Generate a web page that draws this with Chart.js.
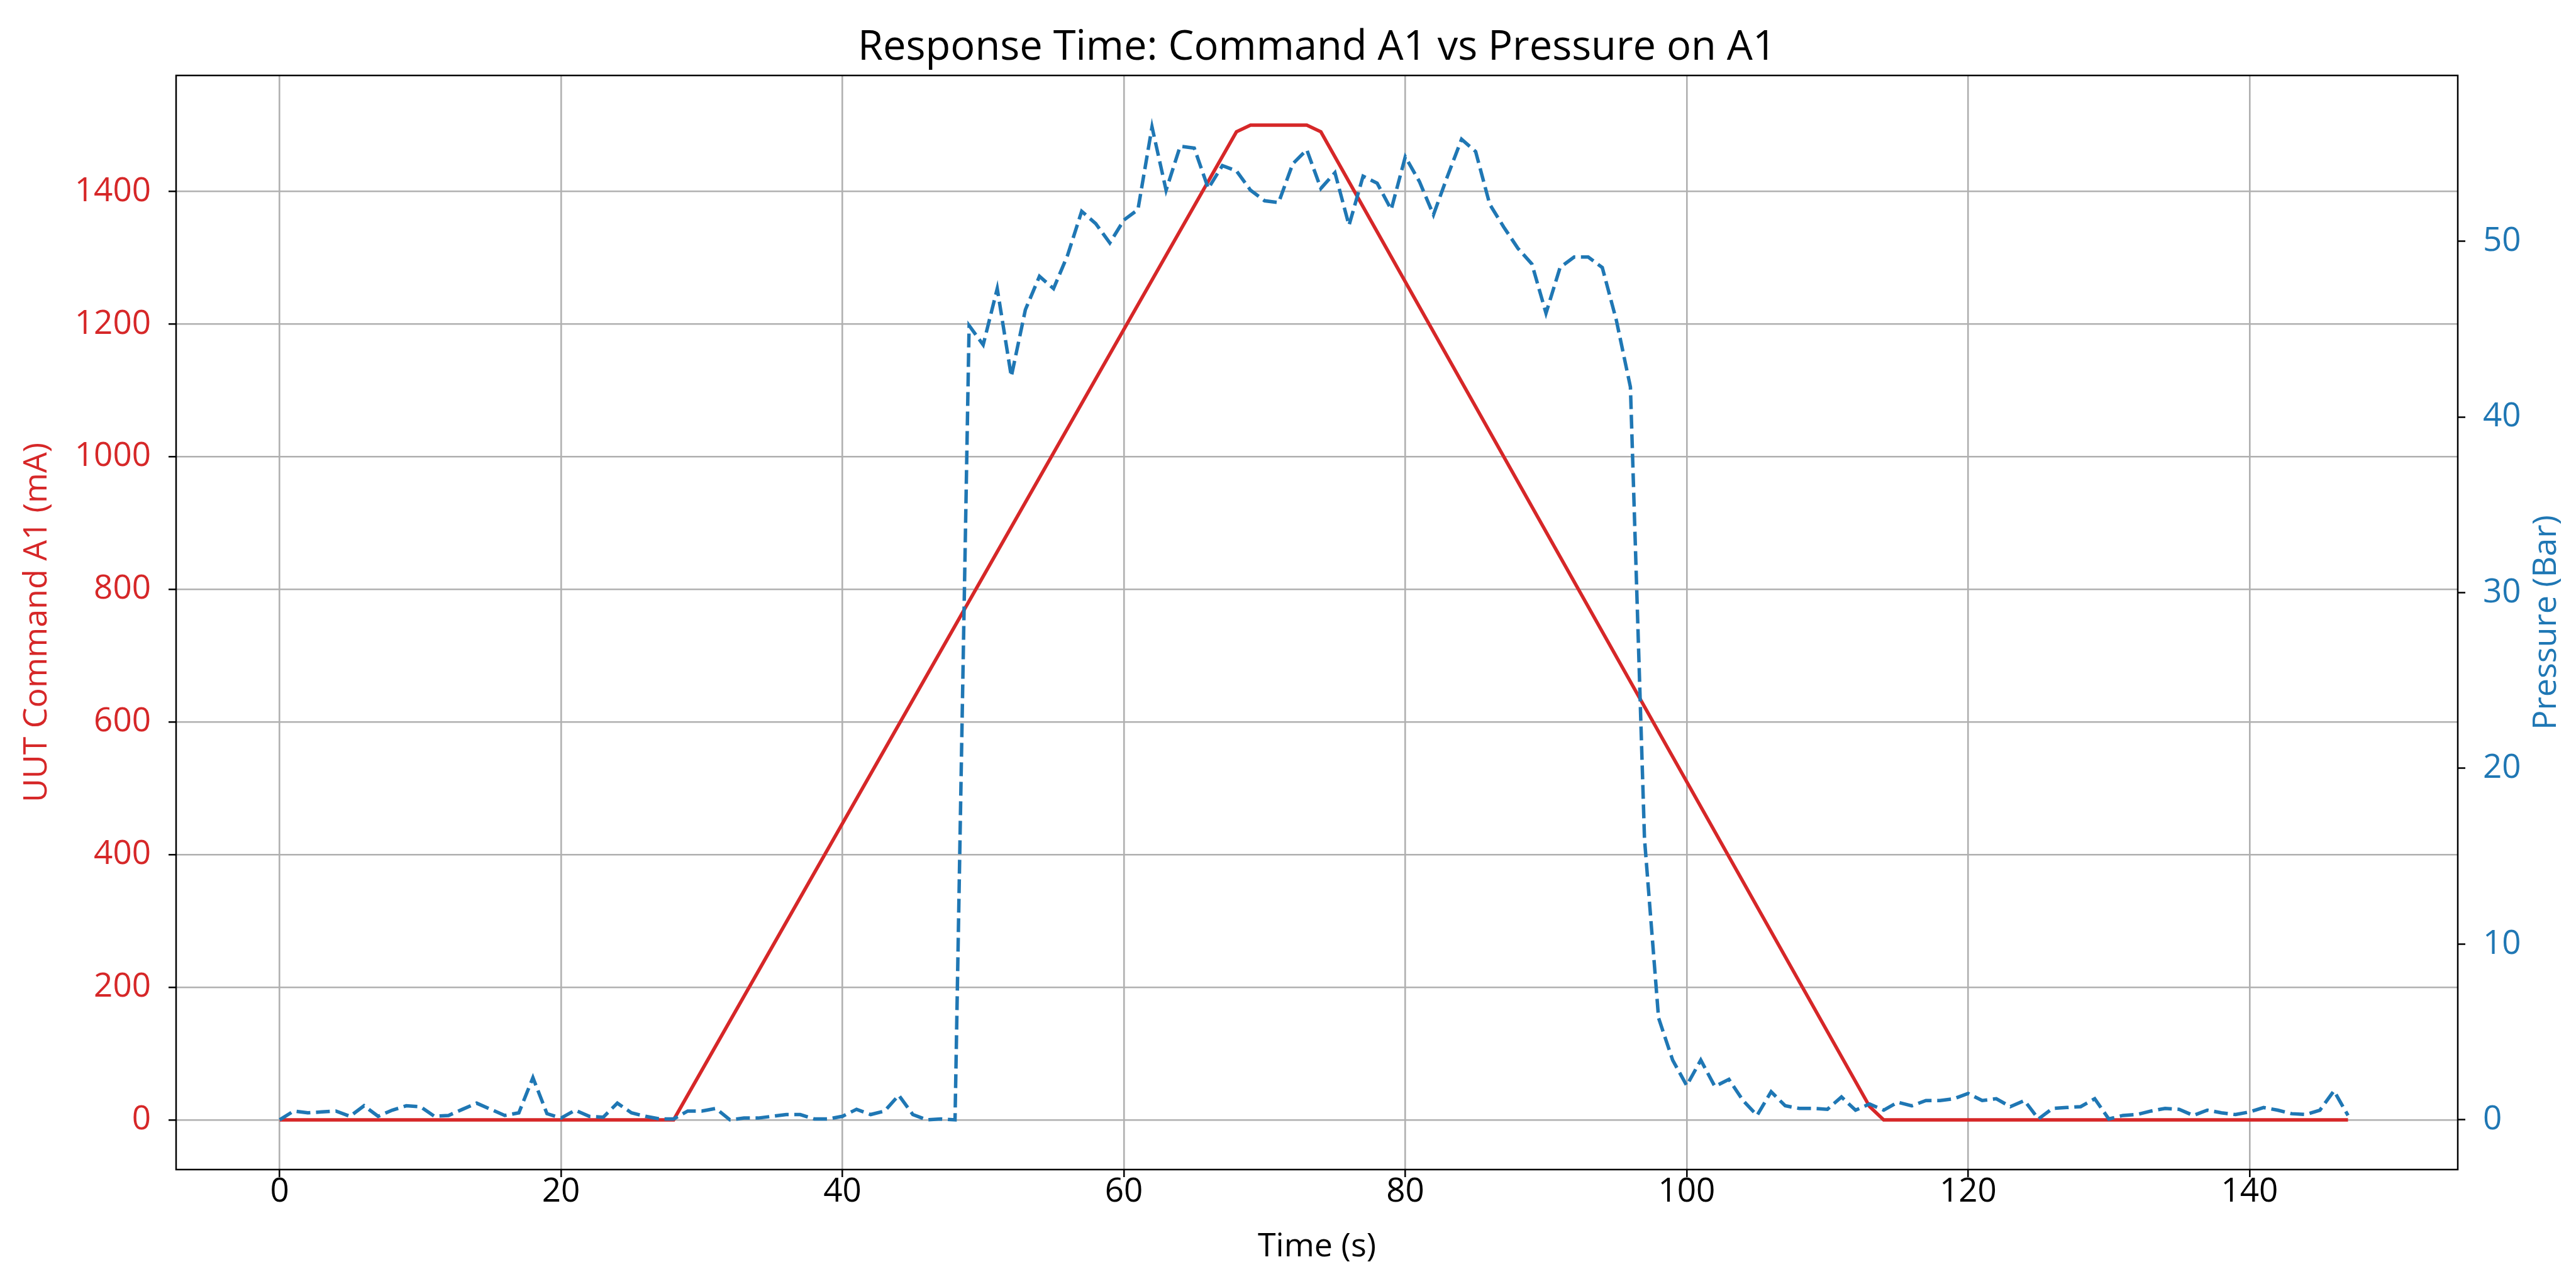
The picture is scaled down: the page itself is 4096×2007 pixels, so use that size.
<!DOCTYPE html>
<html>
<head>
<meta charset="utf-8">
<title>Response Time: Command A1 vs Pressure on A1</title>
<script src="https://cdn.jsdelivr.net/npm/chart.js@4.4.0/dist/chart.umd.min.js"></script>
<style>
    html, body { margin: 0; padding: 0; background: #ffffff; }
    canvas { display: block; }
</style>
</head>
<body>
<canvas id="myChart" width="4096" height="2007"></canvas>
<script>
// sample times of the logger (s), one per second
var timeS = [
    0, 1, 2, 3, 4, 5, 6, 7, 8, 9,
    10, 11, 12, 13, 14, 15, 16, 17, 18, 19,
    20, 21, 22, 23, 24, 25, 26, 27, 28, 29,
    30, 31, 32, 33, 34, 35, 36, 37, 38, 39,
    40, 41, 42, 43, 44, 45, 46, 47, 48, 49,
    50, 51, 52, 53, 54, 55, 56, 57, 58, 59,
    60, 61, 62, 63, 64, 65, 66, 67, 68, 69,
    70, 71, 72, 73, 74, 75, 76, 77, 78, 79,
    80, 81, 82, 83, 84, 85, 86, 87, 88, 89,
    90, 91, 92, 93, 94, 95, 96, 97, 98, 99,
    100, 101, 102, 103, 104, 105, 106, 107, 108, 109,
    110, 111, 112, 113, 114, 115, 116, 117, 118, 119,
    120, 121, 122, 123, 124, 125, 126, 127, 128, 129,
    130, 131, 132, 133, 134, 135, 136, 137, 138, 139,
    140, 141, 142, 143, 144, 145, 146, 147
];

// pressure on A1 (Bar)
var pressureBar = [
    0.0, 0.5, 0.4, 0.45, 0.5, 0.2, 0.8, 0.2, 0.55, 0.8,
    0.75, 0.2, 0.25, 0.6, 0.95, 0.6, 0.25, 0.4, 2.4, 0.35,
    0.1, 0.55, 0.2, 0.15, 0.95, 0.4, 0.2, 0.05, 0.05, 0.5,
    0.5, 0.65, 0.0, 0.1, 0.1, 0.2, 0.3, 0.3, 0.05, 0.05,
    0.2, 0.6, 0.3, 0.5, 1.4, 0.3, 0.0, 0.05, 0.0, 45.2,
    44.1, 47.3, 42.3, 46.1, 48.0, 47.3, 49.2, 51.7, 51.0, 49.9,
    51.2, 51.8, 56.5, 52.9, 55.4, 55.3, 53.0, 54.3, 54.0, 52.9,
    52.3, 52.2, 54.4, 55.2, 53.0, 53.9, 50.9, 53.7, 53.3, 51.8,
    54.8, 53.4, 51.5, 53.7, 55.8, 55.1, 52.1, 50.8, 49.6, 48.7,
    45.9, 48.5, 49.1, 49.1, 48.5, 45.5, 41.7, 16.0, 5.8, 3.4,
    1.95, 3.4, 1.9, 2.3, 1.1, 0.25, 1.6, 0.8, 0.65, 0.65,
    0.6, 1.3, 0.55, 0.9, 0.55, 1.0, 0.8, 1.1, 1.1, 1.2,
    1.5, 1.1, 1.2, 0.75, 1.1, 0.05, 0.65, 0.7, 0.75, 1.2,
    0.05, 0.25, 0.3, 0.5, 0.65, 0.6, 0.25, 0.55, 0.4, 0.3,
    0.45, 0.7, 0.55, 0.35, 0.3, 0.55, 1.65, 0.25
];

// UUT command A1 (mA), corners of the ramp profile
var cmdTime = [0, 28, 68, 69, 73, 74, 113, 114, 147];
var cmdMA = [0, 0, 1490, 1500, 1500, 1490, 20, 0, 0];

// tick labels
var xTicks = [0, 20, 40, 60, 80, 100, 120, 140];
var cmdTicks = [0, 200, 400, 600, 800, 1000, 1200, 1400];
var pressureTicks = [0, 10, 20, 30, 40, 50];

var RED = '#d62728';
var BLUE = '#1f77b4';
var GRID = '#b0b0b0';
var FONT = "'Open Sans', sans-serif";

var pressurePoints = timeS.map(function (t, i) { return { x: t, y: pressureBar[i] }; });
var cmdPoints = cmdTime.map(function (t, i) { return { x: t, y: cmdMA[i] }; });

function fixTicks(list) {
    return function (scale) {
        scale.ticks = list.map(function (v) { return { value: v }; });
    };
}

// frame round the plot and the right hand axis label (reads bottom to top)
var extras = {
    id: 'extras',
    afterDatasetsDraw: function (chart) {
        var a = chart.chartArea;
        var c = chart.ctx;
        c.save();
        c.strokeStyle = '#000000';
        c.lineWidth = 2.5;
        c.strokeRect(a.left, a.top, a.right - a.left, a.bottom - a.top);
        c.restore();
    },
    afterDraw: function (chart) {
        var a = chart.chartArea;
        var c = chart.ctx;
        c.save();
        c.translate(chart.width - 47, (a.top + a.bottom) / 2);
        c.rotate(-Math.PI / 2);
        c.font = '52px ' + FONT;
        c.fillStyle = BLUE;
        c.textAlign = 'center';
        c.textBaseline = 'middle';
        c.fillText('Pressure (Bar)', 0, 0);
        c.restore();
    }
};

var ctx = document.getElementById('myChart');

var myChart = new Chart(ctx, {
    type: 'line',
    data: {
        datasets: [{
            label: 'Pressure (Bar)',
            data: pressurePoints,
            yAxisID: 'yPressure',
            borderColor: BLUE,
            borderWidth: 5.5,
            borderDash: [22, 9],
            pointRadius: 0,
            fill: false,
            tension: 0
        }, {
            label: 'UUT Command A1 (mA)',
            data: cmdPoints,
            yAxisID: 'yCmd',
            borderColor: RED,
            borderWidth: 5.5,
            pointRadius: 0,
            fill: false,
            tension: 0
        }]
    },
    options: {
        responsive: false,
        animation: false,
        devicePixelRatio: 1,
        layout: { padding: 0 },
        plugins: {
            legend: { display: false },
            tooltip: { enabled: false },
            title: {
                display: true,
                fullSize: false,
                text: 'Response Time: Command A1 vs Pressure on A1',
                color: '#000000',
                font: { family: FONT, size: 65, weight: 'normal', lineHeight: 1.2 },
                padding: { top: 37, bottom: 5 }
            }
        },
        scales: {
            x: {
                type: 'linear',
                position: 'bottom',
                min: -7.36,
                max: 154.8,
                afterBuildTicks: fixTicks(xTicks),
                afterFit: function (s) { s.height = 147; },
                border: { display: false },
                grid: { color: GRID, lineWidth: 2.6, tickLength: 12, tickColor: '#000000', tickWidth: 2.5 },
                ticks: {
                    color: '#000000',
                    font: { family: FONT, size: 53, lineHeight: 0.6 },
                    padding: 8,
                    maxRotation: 0,
                    autoSkip: false,
                    callback: function (v) { return String(v); }
                },
                title: {
                    display: true,
                    text: 'Time (s)',
                    color: '#000000',
                    font: { family: FONT, size: 52, lineHeight: 0.8 },
                    padding: { top: 0, bottom: 3 }
                }
            },
            yCmd: {
                type: 'linear',
                position: 'left',
                min: -75,
                max: 1575,
                afterBuildTicks: fixTicks(cmdTicks),
                afterFit: function (s) { s.width = 280; },
                border: { display: false },
                grid: { color: GRID, lineWidth: 2.6, tickLength: 12, tickColor: '#000000', tickWidth: 2.5 },
                ticks: {
                    color: RED,
                    font: { family: FONT, size: 53 },
                    padding: 28,
                    autoSkip: false,
                    callback: function (v) { return String(v); }
                },
                title: {
                    display: true,
                    text: 'UUT Command A1 (mA)',
                    color: RED,
                    font: { family: FONT, size: 52, lineHeight: 1 },
                    padding: { top: 33, bottom: 0 }
                }
            },
            yPressure: {
                type: 'linear',
                position: 'right',
                min: -2.83,
                max: 59.43,
                afterBuildTicks: fixTicks(pressureTicks),
                afterFit: function (s) { s.width = 188; },
                border: { display: false },
                grid: { drawOnChartArea: false, tickLength: 12, tickColor: '#000000', tickWidth: 2.5 },
                ticks: {
                    color: BLUE,
                    font: { family: FONT, size: 53 },
                    padding: 28,
                    autoSkip: false,
                    callback: function (v) { return String(v); }
                }
            }
        }
    },
    plugins: [extras]
});
</script>
</body>
</html>
